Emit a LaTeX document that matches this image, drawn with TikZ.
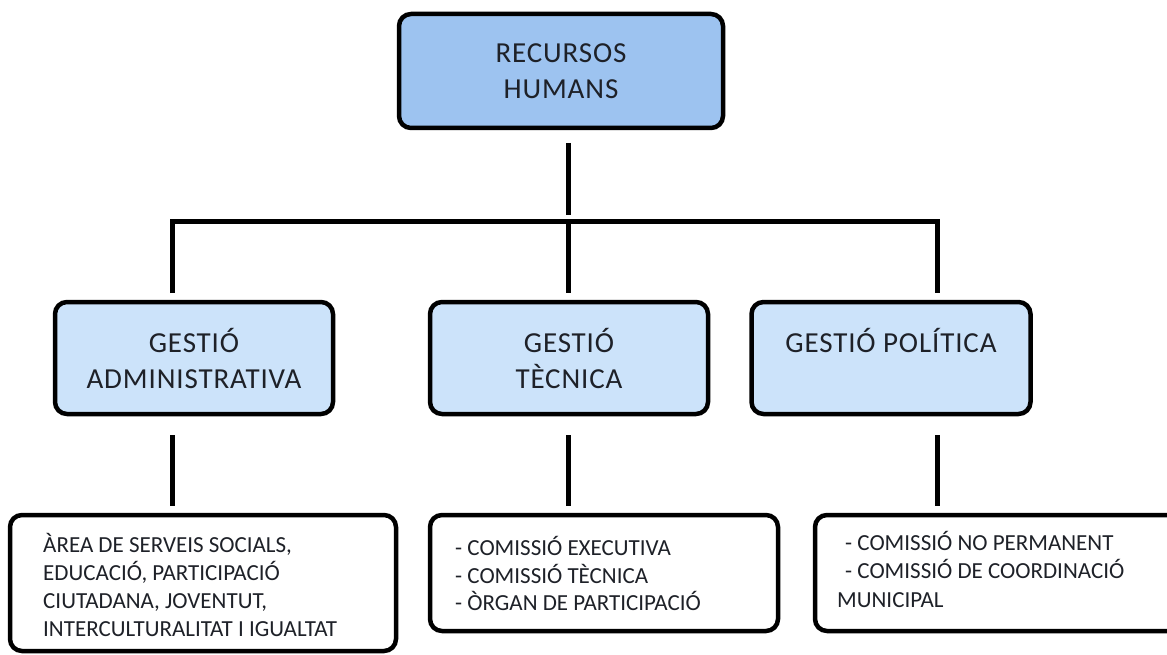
\documentclass[tikz,border=0pt]{standalone}
\usepackage{fontspec}
\setmainfont{Carlito}
\newfontfamily\boxfont[LetterSpace=3]{Carlito}
\definecolor{topblue}{RGB}{157,195,240}
\definecolor{midblue}{RGB}{204,227,250}
\definecolor{txt}{RGB}{30,33,40}
\begin{document}
\begin{tikzpicture}[x=1pt,y=-1pt,
  box/.style={draw=black, line width=4.5pt, rounded corners=12pt, inner sep=0pt, align=center, text=txt},
  conn/.style={line width=5pt, draw=black, line join=miter},
  bigtxt/.style={font=\boxfont\fontsize{29}{36}\selectfont},
  smalltxt/.style={font=\fontsize{23}{28}\selectfont, text=txt, inner sep=0pt, anchor=base west}]
\useasboundingbox (0,0) rectangle (1167,655);
\fill[white] (0,0) rectangle (1167,655);

% top box
\node[box, fill=topblue, bigtxt, minimum width=324pt, minimum height=114pt] (top) at (561,71) {RECURSOS\\HUMANS};

% middle boxes
\node[box, fill=midblue, bigtxt, minimum width=278pt, minimum height=112pt] (adm) at (194,358) {GESTIÓ\\ADMINISTRATIVA};
\node[box, fill=midblue, bigtxt, minimum width=278pt, minimum height=112pt] (tec) at (569,358) {GESTIÓ\\TÈCNICA};
\node[box, fill=midblue, bigtxt, minimum width=279pt, minimum height=112pt] (pol) at (891,358) {GESTIÓ POLÍTICA\\\mbox{}};

% bottom boxes
\node[box, fill=white, minimum width=386pt, minimum height=136pt] (bA) at (203,583) {};
\node[box, fill=white, minimum width=348pt, minimum height=116pt] (bT) at (604,573) {};
\node[box, fill=white, minimum width=367pt, minimum height=116pt] (bP) at (998.5,573) {};

% bottom texts
\node[smalltxt] (a1) at (43,552) {ÀREA DE SERVEIS SOCIALS,};
\node[smalltxt] (a2) at (43,580) {EDUCACIÓ, PARTICIPACIÓ};
\node[smalltxt] (a3) at (43,608) {CIUTADANA, JOVENTUT,};
\node[smalltxt] (a4) at (43,636) {INTERCULTURALITAT I IGUALTAT};

\node[smalltxt] (t1) at (455,555) {- COMISSIÓ EXECUTIVA};
\node[smalltxt] (t2) at (455,583) {- COMISSIÓ TÈCNICA};
\node[smalltxt] (t3) at (455,610) {- ÒRGAN DE PARTICIPACIÓ};

\node[smalltxt] (p1) at (845,550) {- COMISSIÓ NO PERMANENT};
\node[smalltxt] (p2) at (845,578) {- COMISSIÓ DE COORDINACIÓ};
\node[smalltxt] (p3) at (837,607) {MUNICIPAL};

% connectors
\coordinate (t0) at (568,143);
\coordinate (t9) at (568,215);
\coordinate (busL) at (172,222);
\coordinate (busC) at (568,222);
\coordinate (busR) at (937,222);
\coordinate (dL) at (172,293);
\coordinate (dC) at (568,293);
\coordinate (dR) at (937,293);
\coordinate (uL) at (172,435);
\coordinate (uC) at (568,435);
\coordinate (uR) at (937,435);
\coordinate (lL) at (172,506);
\coordinate (lC) at (568,506);
\coordinate (lR) at (937,506);

\draw[conn] (t0) -- (t9);
\draw[conn] (dL) -- (busL) -- (busR) -- (dR);
\draw[conn] (busC) -- (dC);
\draw[conn] (uL) -- (lL);
\draw[conn] (uC) -- (lC);
\draw[conn] (uR) -- (lR);
\end{tikzpicture}
\end{document}
